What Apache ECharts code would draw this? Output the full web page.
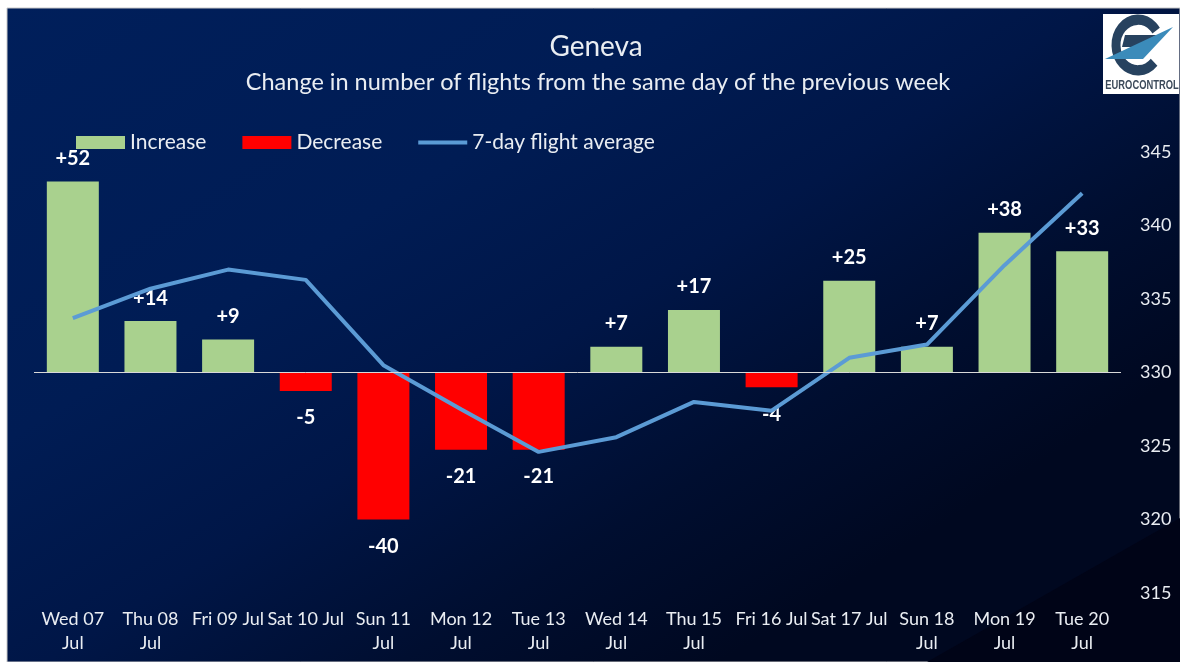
<!DOCTYPE html>
<html>
<head>
<meta charset="utf-8">
<script src="https://cdn.jsdelivr.net/npm/echarts@6/dist/echarts.min.js"></script>
<style>
html, body { margin: 0; padding: 0; background: #fff; }
#main { width: 1180px; height: 662px; }
</style>
</head>
<body>
<div id="main"></div>
<script>
var days = ['Wed 07\nJul', 'Thu 08\nJul', 'Fri 09 Jul', 'Sat 10 Jul', 'Sun 11\nJul', 'Mon 12\nJul', 'Tue 13\nJul',
	'Wed 14\nJul', 'Thu 15\nJul', 'Fri 16 Jul', 'Sat 17 Jul', 'Sun 18\nJul', 'Mon 19\nJul', 'Tue 20\nJul'];
var increase = [52, 14, 9, null, null, null, null, 7, 17, null, 25, 7, 38, 33];
var decrease = [null, null, null, -5, -40, -21, -21, null, null, -4, null, null, null, null];
var average = [333.7, 335.7, 337.0, 336.3, 330.5, 327.5, 324.6, 325.6, 328.0, 327.4, 331.0, 331.9, 337.3, 342.2];

var fontName = 'Lato';
var textColor = '#e9edf2';
var logoDark = '#27425f';

var myChart = echarts.init(document.getElementById('main'));

var option = {
	backgroundColor: '#ffffff',
	animation: false,
	title: [
		{
			text: 'Geneva',
			left: 591,
			top: 28,
			textAlign: 'center',
			textStyle: { color: textColor, fontFamily: fontName, fontSize: 28, fontWeight: 'normal' }
		},
		{
			text: 'Change in number of flights from the same day of the previous week',
			left: 593,
			top: 65,
			textAlign: 'center',
			textStyle: { color: textColor, fontFamily: fontName, fontSize: 23.5, fontWeight: 'normal' }
		}
	],
	legend: {
		left: 71,
		top: 127,
		itemWidth: 49,
		itemHeight: 13,
		itemGap: 36,
		symbolKeepAspect: true,
		textStyle: { color: textColor, fontFamily: fontName, fontSize: 21, padding: [0, 0, 2, 0] },
		data: [
			{ name: 'Increase', icon: 'rect' },
			{ name: 'Decrease', icon: 'rect' },
			{ name: '7-day flight average', icon: 'path://M0 0H49V4H0Z' }
		]
	},
	grid: { left: 34, right: 59, top: 152, bottom: 69, outerBoundsMode: 'none' },
	xAxis: {
		type: 'category',
		data: days,
		axisLine: { show: false, onZero: false },
		axisTick: { show: false },
		axisLabel: {
			interval: 0,
			margin: 14,
			color: textColor,
			fontFamily: fontName,
			fontSize: 18,
			lineHeight: 24,
			verticalAlign: 'top'
		}
	},
	yAxis: [
		{
			type: 'value',
			min: -60,
			max: 60,
			show: false,
			splitLine: { show: false }
		},
		{
			type: 'value',
			position: 'right',
			min: 315,
			max: 345,
			interval: 5,
			axisLine: { show: false },
			axisTick: { show: false },
			splitLine: { show: false },
			axisLabel: { margin: 19, color: textColor, fontFamily: fontName, fontSize: 18 }
		}
	],
	series: [
		{
			name: 'Increase',
			type: 'bar',
			barWidth: 52,
			barGap: '-100%',
			data: increase,
			itemStyle: { color: '#a9d18e' },
			label: {
				show: true,
				position: 'top',
				distance: 13,
				color: '#ffffff',
				fontFamily: fontName,
				fontSize: 20,
				fontWeight: 'bold',
				formatter: function (p) { return '+' + p.value; }
			},
			markLine: {
				silent: true,
				symbol: 'none',
				label: { show: false },
				lineStyle: { color: '#d9d9d9', width: 1, type: 'solid' },
				data: [{ yAxis: 0 }]
			}
		},
		{
			name: 'Decrease',
			type: 'bar',
			barWidth: 52,
			barGap: '-100%',
			data: decrease,
			itemStyle: { color: '#ff0000' },
			label: {
				show: true,
				position: 'bottom',
				distance: 17,
				color: '#ffffff',
				fontFamily: fontName,
				fontSize: 20,
				fontWeight: 'bold'
			}
		},
		{
			name: '7-day flight average',
			type: 'line',
			yAxisIndex: 1,
			data: average,
			symbol: 'none',
			lineStyle: { color: '#5b9bd5', width: 4 },
			itemStyle: { color: '#5b9bd5' }
		}
	],
	graphic: [
		{
			type: 'rect',
			z: -10,
			shape: { x: 7, y: 8, width: 1173, height: 654 },
			style: {
				fill: new echarts.graphic.LinearGradient(0, 0, 500, 800, [
					{ offset: 0, color: '#001f5b' },
					{ offset: 0.4, color: '#001c54' },
					{ offset: 0.62, color: '#001647' },
					{ offset: 0.82, color: '#000e30' },
					{ offset: 1, color: '#000820' }
				], true),
				stroke: '#c8c8c8',
				lineWidth: 1
			}
		},
		{
			type: 'polygon',
			z: -9,
			shape: { points: [[927, 662], [1180, 518], [1180, 662]] },
			style: { fill: '#000417' }
		},
		// logo
		{ type: 'rect', z: -8, shape: { x: 1103, y: 14, width: 76, height: 80 }, style: { fill: '#ffffff' } },
		{
			type: 'arc',
			z: -7,
			x: 1138,
			y: 45,
			scaleY: 1.15,
			shape: { cx: 0, cy: 0, r: 22, startAngle: 0.75, endAngle: 5.68 },
			style: { stroke: logoDark, lineWidth: 9, fill: null }
		},
		{
			type: 'polygon',
			z: -7,
			shape: { points: [[1125, 35], [1157, 35], [1135, 47], [1122, 47]] },
			style: { fill: logoDark }
		},
		{
			type: 'polygon',
			z: -6,
			shape: { points: [[1173, 27], [1105, 59], [1143, 59]] },
			style: { fill: '#3b8bba' }
		},
		{
			type: 'text',
			z: -6,
			x: 1142,
			y: 86,
			scaleX: 0.78,
			style: { x: 0, y: 0, text: 'EUROCONTROL', fill: '#3c4a5a', font: 'bold 12px "Liberation Sans"', textAlign: 'center', textVerticalAlign: 'middle' }
		}
	]
};
myChart.setOption(option);
</script>
</body>
</html>
